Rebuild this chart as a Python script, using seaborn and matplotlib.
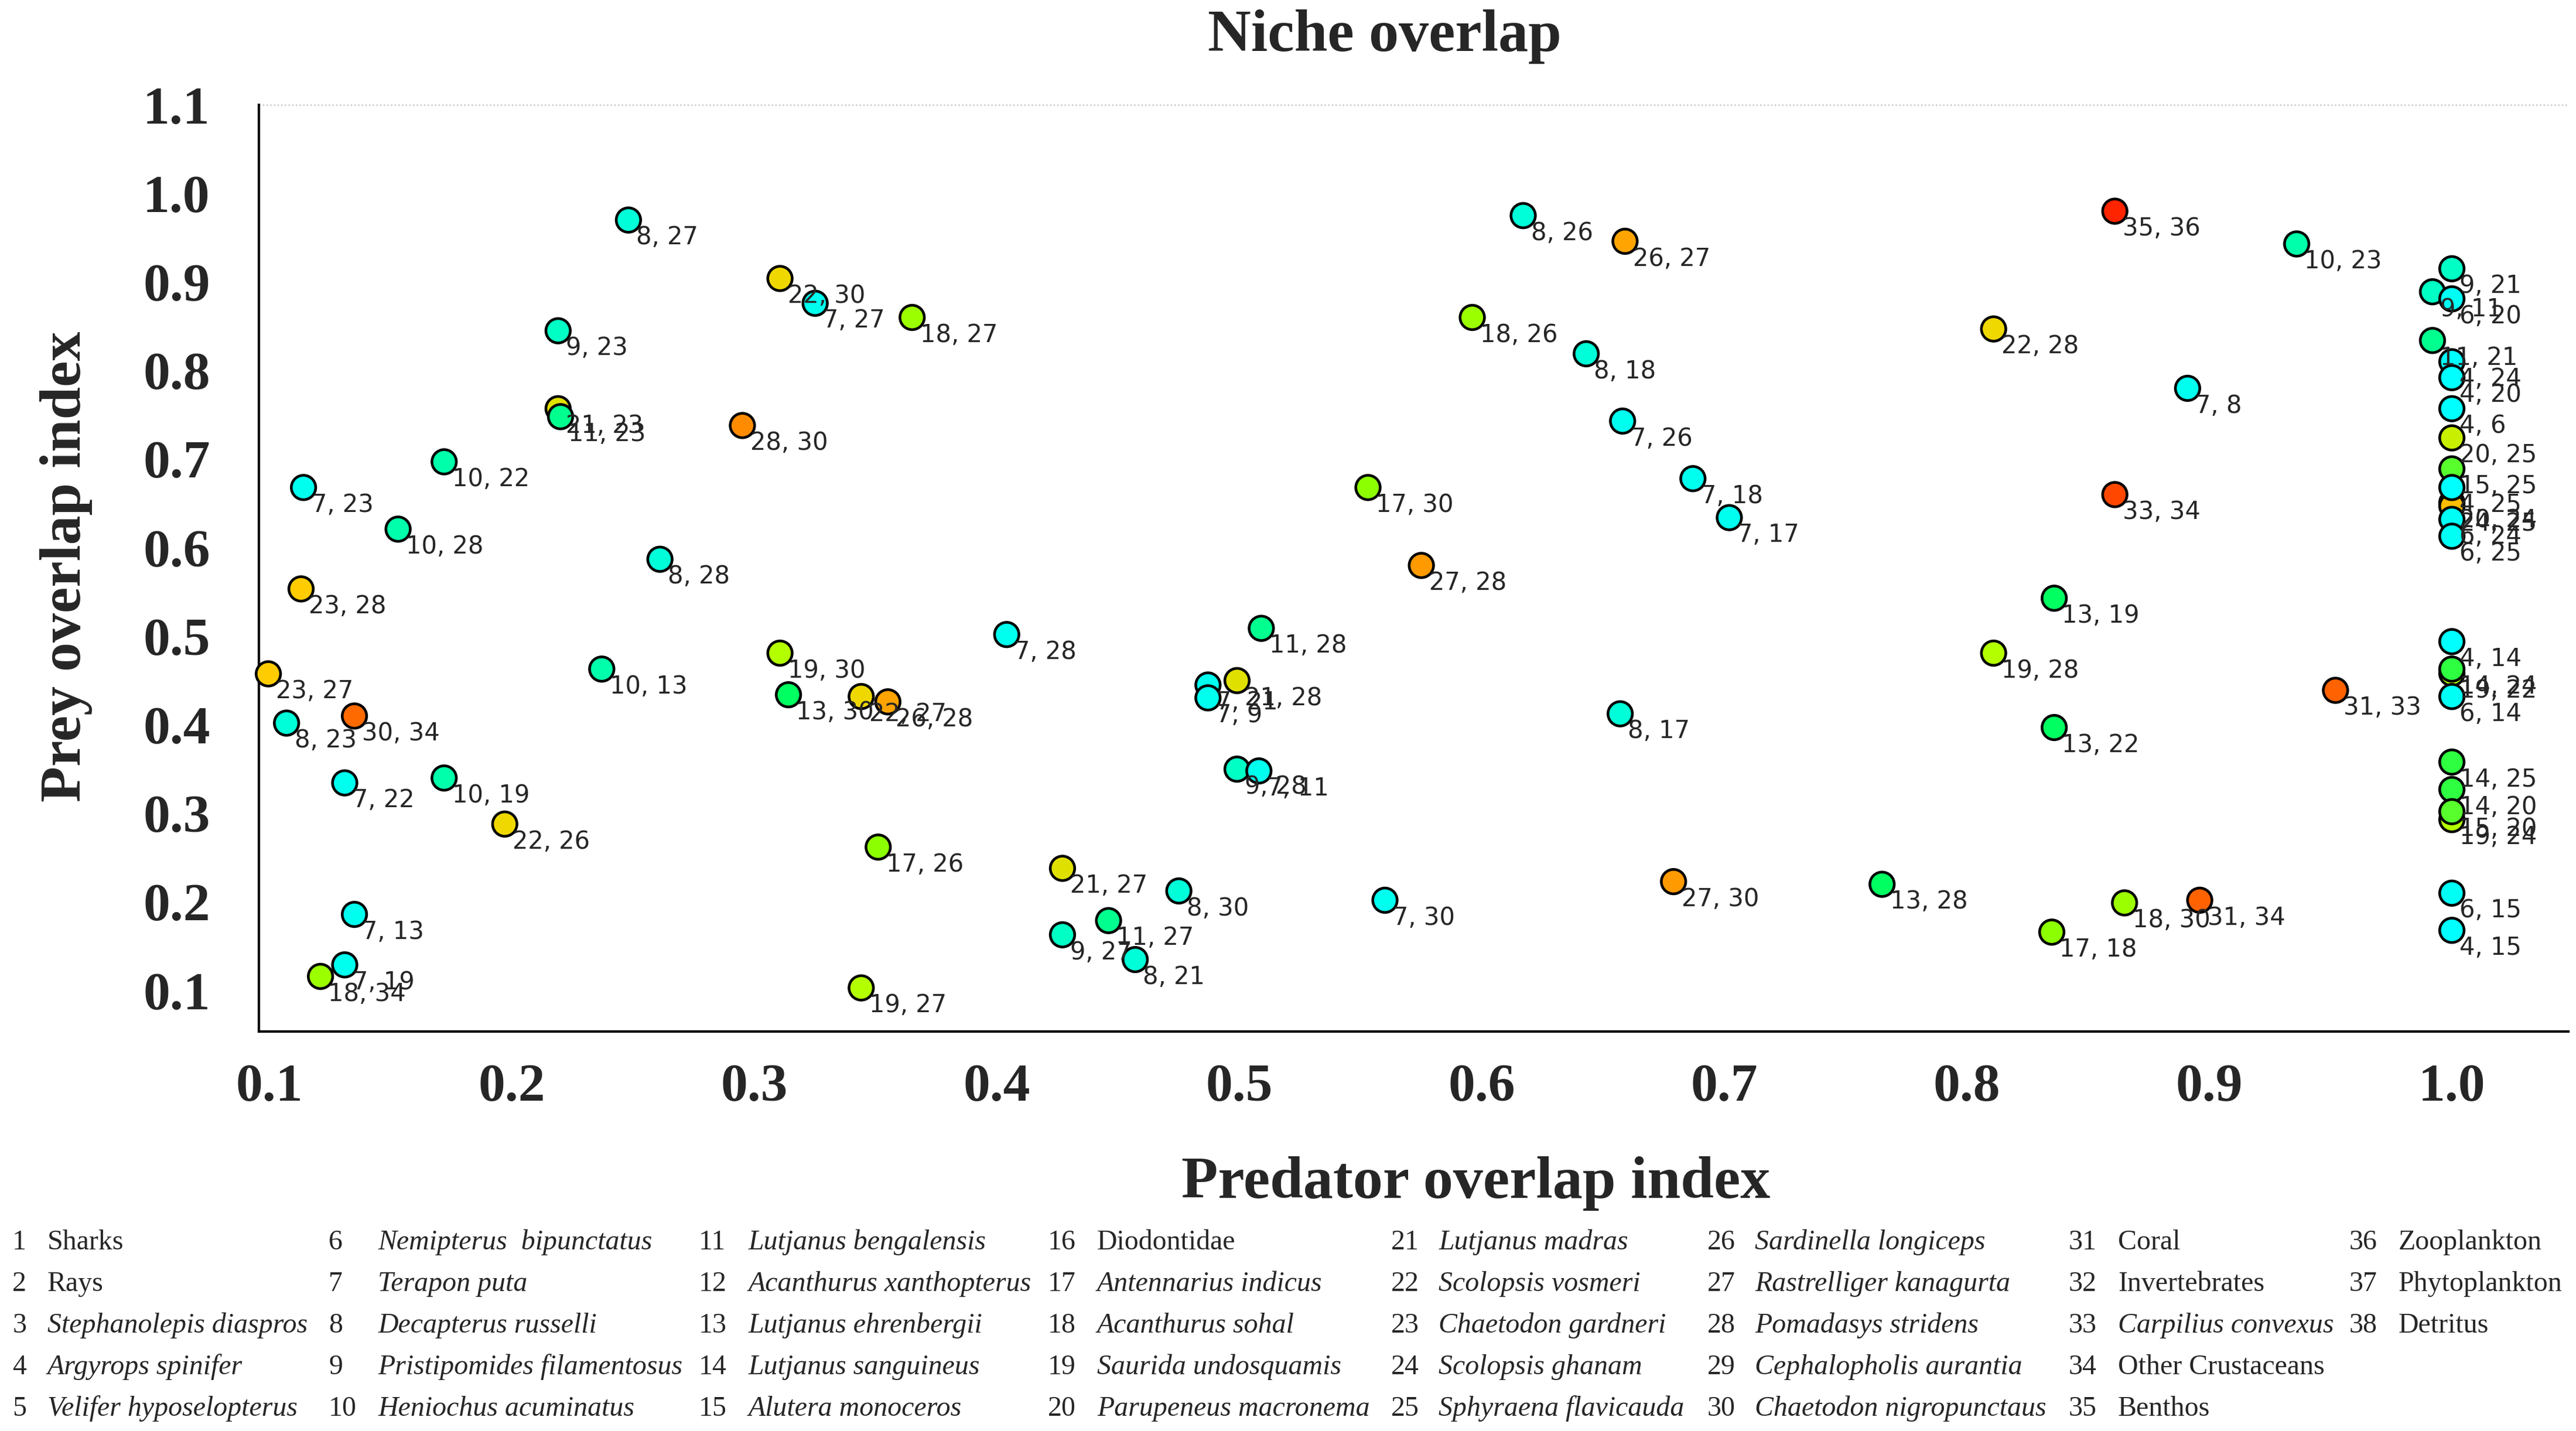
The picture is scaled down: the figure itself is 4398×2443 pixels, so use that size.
import matplotlib
matplotlib.use("Agg")
import pandas as pd
import matplotlib.pyplot as plt
import seaborn as sns
from matplotlib.colors import LinearSegmentedColormap

# ==========================================
# DATA: species pairs and their overlap indices
# ==========================================
sp_a = [8, 21, 11, 9, 22, 7, 18, 28, 10, 7, 10, 8, 23, 23, 30, 8, 7, 10, 22, 10,
        19, 13, 22, 26, 7, 18, 7, 17, 19, 7, 21, 8, 9, 11, 8, 11, 7, 21, 7, 9,
        7, 7, 17, 27, 8, 26, 18, 8, 7, 7, 7, 8, 27, 13, 35, 10, 22, 7, 33, 13,
        19, 13, 31, 18, 31, 17,
        9, 9, 6, 11, 4, 4, 4, 20, 15, 20, 24, 4, 6, 6, 4, 19, 14, 6, 14, 14,
        19, 15, 6, 4]
sp_b = [27, 23, 23, 23, 30, 27, 27, 30, 22, 23, 28, 28, 28, 27, 34, 23, 22, 19, 26, 13,
        30, 30, 27, 28, 13, 34, 19, 26, 27, 28, 27, 30, 27, 27, 21, 28, 21, 28, 9, 28,
        11, 30, 30, 28, 26, 27, 26, 18, 26, 18, 17, 17, 30, 28, 36, 23, 28, 8, 34, 19,
        28, 22, 33, 30, 34, 18,
        21, 11, 20, 21, 24, 20, 6, 25, 25, 24, 25, 25, 24, 25, 14, 22, 24, 14, 25, 20,
        24, 20, 15, 15]
pred = [0.248, 0.219, 0.220, 0.219, 0.3105, 0.325, 0.365, 0.295, 0.172, 0.114,
        0.153, 0.261, 0.113, 0.0995, 0.135, 0.107, 0.131, 0.172, 0.197, 0.237,
        0.3105, 0.314, 0.344, 0.355, 0.135, 0.121, 0.131, 0.351, 0.344, 0.404,
        0.427, 0.475, 0.427, 0.446, 0.457, 0.509, 0.487, 0.499, 0.487, 0.499,
        0.508, 0.560, 0.553, 0.575, 0.617, 0.659, 0.596, 0.643, 0.658, 0.687,
        0.702, 0.657, 0.679, 0.765, 0.861, 0.936, 0.811, 0.891, 0.861, 0.836,
        0.811, 0.836, 0.952, 0.865, 0.896, 0.835,
        1.0, 0.992, 1.0, 0.992, 1.0, 1.0, 1.0, 1.0, 1.0, 1.0,
        1.0, 1.0, 1.0, 1.0, 1.0, 1.0, 1.0, 1.0, 1.0, 1.0,
        1.0, 1.0, 1.0, 1.0]
prey = [0.970, 0.757, 0.748, 0.845, 0.904, 0.876, 0.860, 0.738, 0.697, 0.668,
        0.621, 0.587, 0.5535, 0.4576, 0.410, 0.402, 0.3345, 0.340, 0.288, 0.463,
        0.481, 0.434, 0.432, 0.426, 0.186, 0.116, 0.129, 0.262, 0.103, 0.502,
        0.238, 0.2125, 0.163, 0.179, 0.135, 0.509, 0.445, 0.450, 0.4305, 0.350,
        0.348, 0.202, 0.668, 0.580, 0.975, 0.946, 0.860, 0.819, 0.743, 0.678,
        0.634, 0.4125, 0.223, 0.220, 0.980, 0.943, 0.847, 0.780, 0.660, 0.543,
        0.481, 0.397, 0.439, 0.199, 0.202, 0.166,
        0.915, 0.889, 0.881, 0.834, 0.810, 0.792, 0.757, 0.724, 0.689, 0.651,
        0.647, 0.668, 0.632, 0.613, 0.494, 0.458, 0.463, 0.432, 0.358, 0.327,
        0.293, 0.302, 0.210, 0.168]

x_ticks = [0.1, 0.2, 0.3, 0.4, 0.5, 0.6, 0.7, 0.8, 0.9, 1.0]
y_ticks = [0.1, 0.2, 0.3, 0.4, 0.5, 0.6, 0.7, 0.8, 0.9, 1.0, 1.1]

legend_names = [
    "Sharks", "Rays", "Stephanolepis diaspros", "Argyrops spinifer", "Velifer hyposelopterus",
    "Nemipterus  bipunctatus", "Terapon puta", "Decapterus russelli",
    "Pristipomides filamentosus", "Heniochus acuminatus",
    "Lutjanus bengalensis", "Acanthurus xanthopterus", "Lutjanus ehrenbergii",
    "Lutjanus sanguineus", "Alutera monoceros",
    "Diodontidae", "Antennarius indicus", "Acanthurus sohal", "Saurida undosquamis",
    "Parupeneus macronema",
    "Lutjanus madras", "Scolopsis vosmeri", "Chaetodon gardneri", "Scolopsis ghanam",
    "Sphyraena flavicauda",
    "Sardinella longiceps", "Rastrelliger kanagurta", "Pomadasys stridens",
    "Cephalopholis aurantia", "Chaetodon nigropunctaus",
    "Coral", "Invertebrates", "Carpilius convexus", "Other Crustaceans", "Benthos",
    "Zooplankton", "Phytoplankton", "Detritus",
]
plain_names = {"Sharks", "Rays", "Diodontidae", "Coral", "Invertebrates",
               "Other Crustaceans", "Benthos", "Zooplankton", "Phytoplankton", "Detritus"}

df = pd.DataFrame({"sp_a": sp_a, "sp_b": sp_b, "pred": pred, "prey": prey})
df["label"] = df["sp_a"].astype(str) + ", " + df["sp_b"].astype(str)

# ==========================================
# COLOURS: cyan -> green -> yellow -> red by first species number
# ==========================================
anchors = [(4, "#00FFFF"), (7, "#00FFEE"), (8, "#00FFD8"), (9, "#00FFC4"),
           (10, "#00FFAA"), (11, "#00FF8C"), (13, "#00FF60"), (14, "#30FF40"),
           (15, "#5CFF2C"), (17, "#8CFF00"), (18, "#9CFF00"), (19, "#B4FF00"),
           (20, "#C8F000"), (21, "#E0E000"), (22, "#EED800"), (23, "#FFCC00"),
           (26, "#FFA400"), (27, "#FF9A00"), (28, "#FF8C00"), (30, "#FF6A00"),
           (31, "#FF6200"), (33, "#FF4800"), (35, "#FF2400")]
cmap = LinearSegmentedColormap.from_list(
    "niche", [((i - 4) / 31, c) for i, c in anchors])

# ==========================================
# PLOT
# ==========================================
sns.set_style("white")
plt.rcParams["font.family"] = ["Liberation Serif", "DejaVu Serif"]

fig = plt.figure(figsize=(4398 / 300, 2443 / 300), dpi=300)
ax = fig.add_axes([0.1005, 0.279, 0.8965, 0.6477])

sns.scatterplot(data=df, x="pred", y="prey", hue="sp_a", palette=cmap,
                hue_norm=(4, 35), s=100, edgecolor="black", linewidth=1.1,
                legend=False, ax=ax, zorder=3, clip_on=False)

for _, row in df.iterrows():
    ax.annotate(row["label"], (row["pred"], row["prey"]), xytext=(3.2, -10),
                textcoords="offset points", ha="left", va="baseline",
                fontsize=10, family="DejaVu Sans", zorder=4,
                annotation_clip=False)

ax.set_xlim(0.0956, 1.048)
ax.set_ylim(0.0535, 1.1)
ax.set_xticks(x_ticks)
ax.set_yticks(y_ticks)
ax.set_xticklabels([f"{t:.1f}" for t in x_ticks], fontweight="bold", fontsize=22)
ax.set_yticklabels([f"{t:.1f}" for t in y_ticks], fontweight="bold", fontsize=22)
ax.tick_params(axis="both", direction="inout", length=10, width=1.0, color="black")
ax.tick_params(axis="y", pad=15)
ax.tick_params(axis="x", pad=8)

for side in ["left", "bottom"]:
    ax.spines[side].set_linewidth(1.0)
    ax.spines[side].set_color("black")
ax.spines["right"].set_visible(False)
ax.spines["top"].set_visible(False)
# faint dotted line along the top of the frame
ax.axhline(1.1, color="#C8C8C8", linestyle=(0, (1, 1.5)), linewidth=0.6,
           clip_on=False, zorder=1)

ax.set_xlabel("Predator overlap index", fontsize=24.5, fontweight="bold")
ax.set_ylabel("Prey overlap index", fontsize=24, fontweight="bold")
ax.xaxis.set_label_coords(0.527, -0.1635)
ax.yaxis.set_label_coords(-0.0835, 0.502)
ax.xaxis.label.set_va("center")
ax.yaxis.label.set_va("center")

fig.text(0.5374, 0.9644, "Niche overlap", fontsize=24.5, fontweight="bold",
         ha="center", va="baseline")

# ==========================================
# SPECIES KEY
# ==========================================
num_x = [0.0048, 0.1276, 0.2713, 0.4068, 0.540, 0.6628, 0.8031, 0.912]
name_x = [0.0184, 0.1467, 0.2904, 0.4259, 0.5585, 0.6812, 0.8222, 0.9311]
row_base = [2133, 2204, 2275, 2346, 2417]
for i, name in enumerate(legend_names):
    col, r = divmod(i, 5)
    yb = (2443 - row_base[r]) / 2443
    fig.text(num_x[col], yb, str(i + 1), fontsize=11.5, va="baseline", ha="left")
    fig.text(name_x[col], yb, name, fontsize=11.5, va="baseline", ha="left",
             style="normal" if name in plain_names else "italic")

plt.savefig("out.png", dpi=300)
